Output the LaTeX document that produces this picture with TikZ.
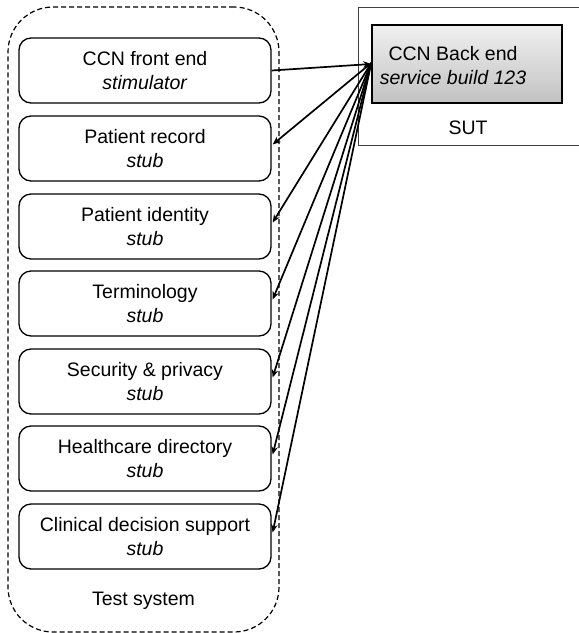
\documentclass[tikz,border=0pt]{standalone}
\usepackage{fontspec}
\setmainfont{Liberation Sans}
\usetikzlibrary{arrows.meta}
\begin{document}
\begin{tikzpicture}[x=1pt,y=-1pt,
  txt/.style={font=\fontsize{19.5}{24}\selectfont, align=center, inner sep=0pt},
  stubbox/.style={draw, line width=1.3pt, rounded corners=12pt, minimum width=252pt, minimum height=65pt, inner sep=0pt, txt},
  conn/.style={line width=1.7pt, -{Stealth[length=8pt,width=6.5pt]}}
]
\useasboundingbox (0,0) rectangle (579,633);
% containers
\node (testsys) [draw, dashed, dash pattern=on 5pt off 3pt, line width=1.2pt, rounded corners=45pt,
  minimum width=271pt, minimum height=625pt, inner sep=0pt] at (143.5,319.5) {};
\node (testlabel) [txt] at (143.5,601) {Test system};
\node (sut) [draw, draw=black!75, line width=1pt, minimum width=242pt, minimum height=138pt, inner sep=0pt] at (479,76) {};
\node (sutlabel) [txt] at (468,128) {SUT};
\node (be) [draw, line width=1.5pt, top color=gray!12, bottom color=gray!48,
  minimum width=190pt, minimum height=78pt, inner sep=0pt] at (467,64) {};
\node (betext) [txt] at (453,65.5) {CCN Back end\\\textit{service build 123}};
% stubs
\node (s1) [stubbox] at (145,70.5) {CCN front end\\\textit{stimulator}};
\node (s2) [stubbox] at (145,148.5) {Patient record\\\textit{stub}};
\node (s3) [stubbox] at (145,226.5) {Patient identity\\\textit{stub}};
\node (s4) [stubbox] at (145,303.5) {Terminology\\\textit{stub}};
\node (s5) [stubbox] at (145,381.5) {Security \& privacy\\\textit{stub}};
\node (s6) [stubbox] at (145,458.5) {Healthcare directory\\\textit{stub}};
\node (s7) [stubbox] at (145,536.5) {Clinical decision support\\\textit{stub}};
% connectors
\draw[conn] (s1.east) -- (be.west);
\foreach \s in {s2,s3,s4,s5,s6,s7}
  \draw[conn] ([yshift=1pt]be.west) -- ([xshift=1pt,yshift=4pt]\s.east);
\end{tikzpicture}
\end{document}
